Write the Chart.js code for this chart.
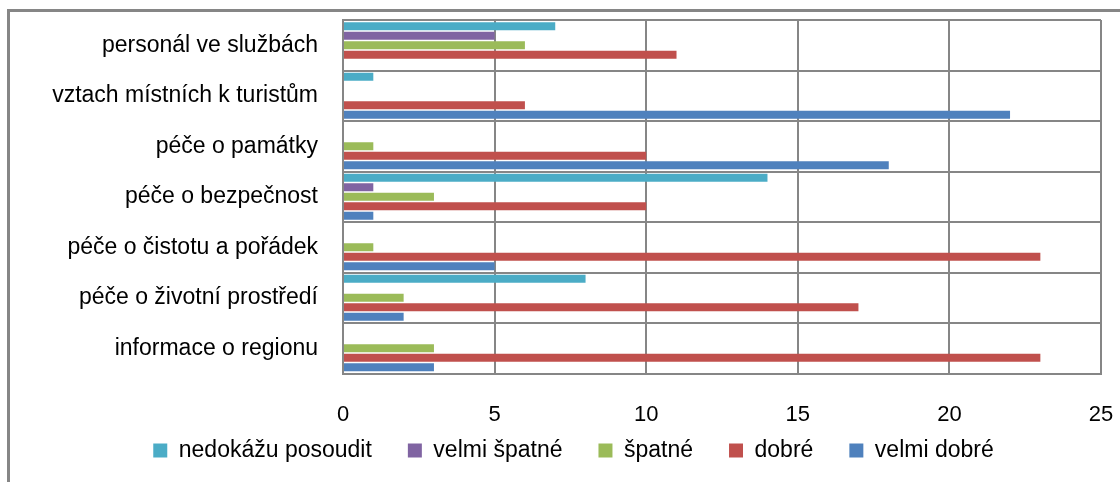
<!DOCTYPE html>
<html>
<head>
<meta charset="utf-8">
<script src="https://cdn.jsdelivr.net/npm/chart.js@4/dist/chart.umd.min.js"></script>
<style>
  html, body { margin: 0; padding: 0; background: #fff; }
  #wrap { width: 1120px; height: 482px; position: relative; }
</style>
</head>
<body>
<div id="wrap"><canvas id="graf"></canvas></div>
<script>
  // hodnocení regionu — počty odpovědí
  var kategorie = [
    "personál ve službách",
    "vztach místních k turistům",
    "péče o památky",
    "péče o bezpečnost",
    "péče o čistotu a pořádek",
    "péče o životní prostředí",
    "informace o regionu"
  ];
  var nedokazu = [7, 1, 0, 14, 0, 8, 0];
  var velmiSpatne = [5, 0, 0, 1, 0, 0, 0];
  var spatne = [6, 0, 1, 3, 1, 2, 3];
  var dobre = [11, 6, 10, 10, 23, 17, 23];
  var velmiDobre = [0, 22, 18, 1, 5, 2, 3];
  var osaX = [0, 5, 10, 15, 20, 25];

  var seda = "#868686";
  var pismo = "'Liberation Sans', Arial, sans-serif";
  var posunLegendy = 26;

  var ramecek = {
    id: "ramecek",
    afterInit: function (chart) {
      // legenda: velké mezery mezi položkami, ale nízký řádek
      var lg = chart.legend;
      if (!lg) return;
      var fit = lg.fit, draw = lg.draw;
      lg.fit = function () {
        fit.apply(this, arguments);
        this.height -= posunLegendy;
      };
      lg.draw = function () {
        var t = this.top;
        this.top = t - posunLegendy;
        draw.apply(this, arguments);
        this.top = t;
      };
    },
    beforeDraw: function (chart) {
      var c = chart.ctx;
      c.save();
      c.fillStyle = "#fff";
      c.fillRect(0, 0, chart.width, chart.height);
      c.strokeStyle = seda;
      c.lineWidth = 3;
      c.beginPath();
      c.moveTo(8.5, chart.height);
      c.lineTo(8.5, 10.5);
      c.lineTo(chart.width, 10.5);
      c.stroke();
      c.restore();
    }
  };

  function sada(label, data, barva) {
    return {
      label: label,
      data: data,
      backgroundColor: barva,
      borderWidth: 0,
      barPercentage: 0.84,
      categoryPercentage: 0.94
    };
  }

  new Chart(document.getElementById("graf"), {
    type: "bar",
    data: {
      labels: kategorie,
      datasets: [
        sada("nedokážu posoudit", nedokazu, "#4BACC6"),
        sada("velmi špatné", velmiSpatne, "#8064A2"),
        sada("špatné", spatne, "#9BBB59"),
        sada("dobré", dobre, "#C0504D"),
        sada("velmi dobré", velmiDobre, "#4F81BD")
      ]
    },
    options: {
      indexAxis: "y",
      responsive: true,
      maintainAspectRatio: false,
      animation: false,
      layout: { padding: { top: 20, left: 46, right: 19, bottom: 10 } },
      plugins: {
        tooltip: { enabled: false },
        legend: {
          position: "bottom",
          labels: {
            boxWidth: 14,
            boxHeight: 14,
            padding: 36,
            color: "#000",
            font: { family: pismo, size: 23 }
          }
        }
      },
      scales: {
        x: {
          min: 0,
          max: 25,
          afterBuildTicks: function (s) {
            s.ticks = osaX.map(function (v) { return { value: v }; });
          },
          afterFit: function (s) {
            s.height = 55.5;
            s.paddingLeft = 0;
            s.paddingRight = 0;
          },
          grid: { color: seda, lineWidth: 2, drawTicks: false },
          border: { color: seda, width: 2 },
          ticks: { padding: 28, color: "#000", font: { family: pismo, size: 22 } }
        },
        y: {
          afterFit: function (s) {
            s.width = 297;
            s.paddingTop = 0;
            s.paddingBottom = 0;
          },
          grid: { color: seda, lineWidth: 2, drawTicks: false, offset: true },
          border: { color: seda, width: 2 },
          ticks: { padding: 25, color: "#000", font: { family: pismo, size: 23 } }
        }
      }
    },
    plugins: [ramecek]
  });
</script>
</body>
</html>
